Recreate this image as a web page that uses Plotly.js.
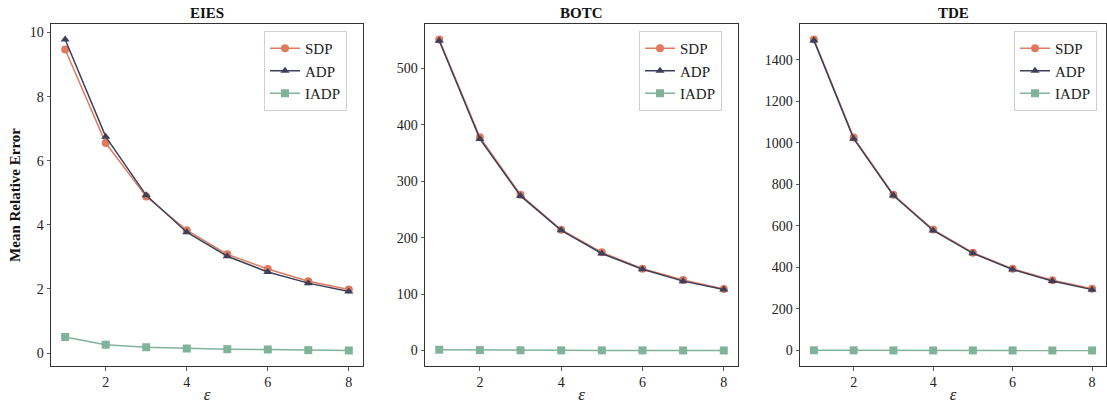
<!DOCTYPE html>
<html>
<head>
<meta charset="utf-8">
<script src="https://cdn.plot.ly/plotly-3.0.1.min.js"></script>
<style>html,body{margin:0;padding:0;background:#fff;}#chart{width:1107px;height:404px;}</style>
</head>
<body>
<div id="chart"></div>
<script>
const epsilon = [1, 2, 3, 4, 5, 6, 7, 8];
const panels = ["EIES", "BOTC", "TDE"];
const seriesNames = ["SDP", "ADP", "IADP"];

const eiesSDP  = [9.47, 6.55, 4.88, 3.83, 3.08, 2.62, 2.24, 1.98];
const eiesADP  = [9.78, 6.75, 4.92, 3.77, 3.02, 2.53, 2.18, 1.92];
const eiesIADP = [0.50, 0.26, 0.18, 0.14, 0.12, 0.11, 0.09, 0.08];

const botcSDP  = [551, 378, 276, 214, 174, 145, 125, 109];
const botcADP  = [549, 375, 274, 213, 172, 144, 123, 108];
const botcIADP = [1.5, 0.8, 0.5, 0.4, 0.3, 0.3, 0.2, 0.2];

const tdeSDP  = [1497, 1025, 750, 582, 471, 393, 338, 297];
const tdeADP  = [1493, 1020, 746, 578, 468, 390, 335, 293];
const tdeIADP = [1.0, 0.6, 0.4, 0.3, 0.3, 0.2, 0.2, 0.2];

const yTicks = [
  [0, 2, 4, 6, 8, 10],
  [0, 100, 200, 300, 400, 500],
  [0, 200, 400, 600, 800, 1000, 1200, 1400]
];
const xTicks = [2, 4, 6, 8];

const data3 = [
  [eiesSDP, eiesADP, eiesIADP],
  [botcSDP, botcADP, botcIADP],
  [tdeSDP, tdeADP, tdeIADP]
];

const colors = ["#E07A5F", "#3D405B", "#81B29A"];
const symbols = ["circle", "triangle-up", "square"];
const W = 1107, H = 404;
const px = [[51, 363], [425, 738], [800, 1106]];
const yTop = 24, yBot = 366;
const legendX = [264, 639, 1014];
const FONT = "Liberation Serif, Times New Roman, serif";

const traces = [];
const layout = {
  width: W, height: H,
  margin: {l: 0, r: 0, t: 0, b: 0},
  paper_bgcolor: "#fff", plot_bgcolor: "#fff",
  font: {family: FONT, size: 14, color: "#222"},
  annotations: [],
  showlegend: true
};

function pad(arrs) {
  let mn = Infinity, mx = -Infinity;
  arrs.forEach(a => a.forEach(v => { mn = Math.min(mn, v); mx = Math.max(mx, v); }));
  const d = (mx - mn) * 0.05;
  return [mn - d, mx + d];
}

for (let p = 0; p < 3; p++) {
  const ax = p === 0 ? "" : String(p + 1);
  const lg = p === 0 ? "legend" : "legend" + (p + 1);
  for (let s = 0; s < 3; s++) {
    traces.push({
      x: epsilon, y: data3[p][s], name: seriesNames[s],
      xaxis: "x" + ax, yaxis: "y" + ax, legend: lg,
      type: "scatter", mode: "lines+markers",
      line: {color: colors[s], width: 1.5},
      marker: {color: colors[s], symbol: symbols[s], size: 8}
    });
  }
  const common = {
    showline: true, mirror: true, linecolor: "#333", linewidth: 1,
    ticks: "outside", ticklen: 3.5, tickwidth: 0.8, tickcolor: "#333",
    showgrid: false, zeroline: false,
    tickfont: {family: FONT, size: 14, color: "#222"}
  };
  layout["xaxis" + ax] = Object.assign({}, common, {
    domain: [px[p][0] / W, px[p][1] / W],
    anchor: "y" + ax,
    range: [0.65, 8.35],
    tickvals: xTicks,
    title: {text: "<i>ε</i>", font: {family: FONT, size: 17, color: "#222"}, standoff: 0}
  });
  layout["yaxis" + ax] = Object.assign({}, common, {
    domain: [1 - yBot / H, 1 - yTop / H],
    anchor: "x" + ax,
    range: pad(data3[p]),
    tickvals: yTicks[p]
  });
  if (p === 0) {
    layout.yaxis.title = {text: "<b>Mean Relative Error</b>", font: {family: FONT, size: 15, color: "#111"}, standoff: 5};
  }
  layout[lg] = {
    x: legendX[p] / W, y: 1 - 31 / H, xanchor: "left", yanchor: "top",
    xref: "paper", yref: "paper",
    bgcolor: "rgba(255,255,255,0.9)", bordercolor: "#d0d0d0", borderwidth: 1,
    font: {family: FONT, size: 15, color: "#222"},
    itemwidth: 30, tracegroupgap: 0
  };
  layout.annotations.push({
    text: "<b>" + panels[p] + "</b>", xref: "paper", yref: "paper",
    x: (px[p][0] + px[p][1]) / 2 / W, y: 1 - 13 / H,
    xanchor: "center", yanchor: "middle", showarrow: false,
    font: {family: FONT, size: 15, color: "#111"}
  });
}

Plotly.newPlot("chart", traces, layout, {displayModeBar: false, staticPlot: true});
</script>
</body>
</html>
